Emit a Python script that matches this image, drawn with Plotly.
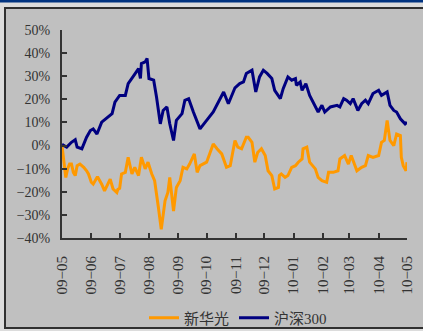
import plotly.graph_objects as go

# 沪深300 (blue)
hs_dates = ["2009-05-01","2009-05-06","2009-05-11","2009-05-15","2009-05-17","2009-05-22","2009-05-27","2009-05-31",
            "2009-06-03","2009-06-07","2009-06-12","2009-06-17","2009-06-23","2009-06-26","2009-07-01","2009-07-07",
            "2009-07-10","2009-07-15","2009-07-21","2009-07-23","2009-07-24","2009-07-28","2009-07-30","2009-08-01",
            "2009-08-06","2009-08-09","2009-08-13","2009-08-16","2009-08-20","2009-08-23","2009-08-27","2009-08-30",
            "2009-09-05","2009-09-08","2009-09-12","2009-09-17","2009-09-24","2009-10-01","2009-10-08","2009-10-19",
            "2009-10-24","2009-10-31","2009-11-05","2009-11-09","2009-11-12","2009-11-18","2009-11-22","2009-11-26",
            "2009-11-30","2009-12-04","2009-12-09","2009-12-12","2009-12-18","2009-12-21","2009-12-26","2009-12-30",
            "2010-01-03","2010-01-04","2010-01-08","2010-01-10","2010-01-14","2010-01-18","2010-01-24","2010-01-27",
            "2010-01-31","2010-02-03","2010-02-09","2010-02-16","2010-02-19","2010-02-23","2010-02-26","2010-03-02",
            "2010-03-05","2010-03-10","2010-03-14","2010-03-18","2010-03-21","2010-03-26","2010-04-01","2010-04-04",
            "2010-04-10","2010-04-13","2010-04-17","2010-04-20","2010-04-24","2010-04-29","2010-05-01"]
hs_vals = [0.5,-0.7,1.4,2.5,-0.7,-1.4,3.6,6.5,
           7.2,5.0,10.1,11.6,13.8,18.8,21.7,21.7,
           26.8,29.7,33.3,29.0,35.5,36.2,37.7,29.0,
           28.3,21.0,9.4,15.2,16.7,9.4,2.2,10.9,
           13.8,19.6,20.3,14.5,7.2,10.9,14.5,23.2,
           18.1,25.0,26.8,27.5,31.2,32.6,23.2,29.7,
           32.6,31.2,29.0,23.9,20.3,24.6,29.7,28.3,
           29.0,26.1,27.5,23.9,26.8,21.7,16.7,14.5,
           17.4,14.5,16.7,17.4,16.7,20.3,19.6,18.1,
           20.3,15.2,18.1,19.6,18.1,22.5,23.9,21.7,
           23.2,17.4,15.2,14.5,11.6,9.4,10.1]

# 新华光 (orange)
xhg_dates = ["2009-05-01","2009-05-03","2009-05-05","2009-05-07","2009-05-09","2009-05-11","2009-05-13","2009-05-15",
             "2009-05-17","2009-05-20","2009-05-24","2009-05-27","2009-05-29","2009-06-01","2009-06-03","2009-06-07",
             "2009-06-08","2009-06-12","2009-06-14","2009-06-15","2009-06-21","2009-06-24","2009-06-28","2009-06-29",
             "2009-07-01","2009-07-03","2009-07-07","2009-07-10","2009-07-14","2009-07-17","2009-07-21","2009-07-24",
             "2009-07-28","2009-07-31","2009-08-04","2009-08-07","2009-08-11","2009-08-14","2009-08-18","2009-08-21",
             "2009-08-23","2009-08-27","2009-08-30","2009-09-03","2009-09-06","2009-09-10","2009-09-13","2009-09-18",
             "2009-09-21","2009-09-24","2009-10-01","2009-10-08","2009-10-12","2009-10-17","2009-10-22","2009-10-26",
             "2009-10-28","2009-10-31","2009-11-03","2009-11-07","2009-11-12","2009-11-14","2009-11-18","2009-11-21",
             "2009-11-24","2009-11-28","2009-12-02","2009-12-05","2009-12-09","2009-12-12","2009-12-16","2009-12-17",
             "2009-12-19","2009-12-23","2009-12-26","2009-12-30","2010-01-03","2010-01-06","2010-01-10","2010-01-11",
             "2010-01-15","2010-01-18","2010-01-24","2010-01-27","2010-01-31","2010-02-05","2010-02-07","2010-02-12",
             "2010-02-17","2010-02-19","2010-02-24","2010-02-28","2010-03-03","2010-03-09","2010-03-14","2010-03-18",
             "2010-03-21","2010-03-26","2010-04-01","2010-04-04","2010-04-07","2010-04-10","2010-04-13","2010-04-17",
             "2010-04-20","2010-04-24","2010-04-25","2010-04-27","2010-04-30","2010-05-01"]
xhg_vals = [0.0,-6.0,-13.8,-10.0,-8.0,-8.0,-11.6,-13.0,
            -8.7,-8.0,-9.4,-10.9,-12.3,-15.9,-16.7,-13.8,
            -13.8,-16.7,-18.8,-19.6,-14.5,-18.8,-20.3,-19.0,
            -18.5,-12.3,-11.6,-5.1,-12.3,-9.4,-13.0,-5.1,
            -10.1,-7.2,-12.3,-15.2,-26.8,-36.2,-23.9,-20.3,
            -13.8,-28.3,-18.1,-15.2,-9.4,-10.1,-8.0,-3.6,
            -11.6,-8.7,-7.2,0.7,-1.4,-3.6,-9.4,-8.7,
            -4.3,2.2,-0.7,-1.4,3.6,3.6,1.4,-7.2,
            -3.0,-1.4,-4.3,-10.9,-13.0,-18.8,-18.1,-13.0,
            -12.3,-13.8,-13.0,-9.4,-8.7,-7.2,-5.8,-1.4,
            -0.7,-7.2,-10.1,-13.8,-15.2,-15.9,-11.6,-11.6,
            -10.9,-5.8,-4.3,-8.0,-4.3,-10.9,-9.4,-8.7,
            -4.3,-5.1,-4.3,1.4,2.2,10.9,2.2,0.0,
            5.0,4.3,-5.1,-8.7,-10.9,-7.2]

tick_vals = ["2009-05-01","2009-06-01","2009-07-01","2009-08-01","2009-09-01","2009-10-01","2009-11-01",
             "2009-12-01","2010-01-01","2010-02-01","2010-03-01","2010-04-01","2010-05-01"]
tick_text = ["09−05","09−06","09−07","09−08","09−09","09−10","09−11","09−12",
             "10−01","10−02","10−03","10−04","10−05"]

W, H = 423, 331
L, R, T, B = 62, 16, 30, 93
pw, ph = W - L - R, H - T - B

def px(x):
    return (x - L) / pw

def py(y):
    return (H - B - y) / ph

fig = go.Figure()
fig.add_trace(go.Scatter(x=xhg_dates, y=xhg_vals, mode="lines", name="新华光",
                         line=dict(color="#FF9900", width=3)))
fig.add_trace(go.Scatter(x=hs_dates, y=hs_vals, mode="lines", name="沪深300",
                         line=dict(color="#000080", width=3)))

shapes = [
    dict(type="rect", xref="paper", yref="paper", x0=px(-5), x1=px(430), y0=py(-5), y1=py(2.5),
         fillcolor="#003380", line=dict(width=0), layer="below"),
    dict(type="rect", xref="paper", yref="paper", x0=px(5), x1=px(430), y0=py(328), y1=py(8),
         fillcolor="#c0c0c0", line=dict(color="#303030", width=2), layer="below"),
]

fig.update_layout(
    width=W, height=H,
    margin=dict(l=L, r=R, t=T, b=B, autoexpand=False),
    paper_bgcolor="#dcdcdc",
    plot_bgcolor="rgba(0,0,0,0)",
    shapes=shapes,
    showlegend=True,
    legend=dict(orientation="h", x=px(144), y=py(318), xanchor="left", yanchor="middle",
                bgcolor="rgba(0,0,0,0)", font=dict(family="Liberation Serif, Noto Sans CJK SC", size=15, color="#333333"),
                itemwidth=30, tracegroupgap=0),
    font=dict(family="Liberation Serif, Noto Sans CJK SC", color="#333333"),
)
fig.update_xaxes(type="date", range=["2009-05-01", "2010-05-01"], tickvals=tick_vals, ticktext=tick_text,
                 tickangle=-90, tickfont=dict(size=15, color="#333333"), showgrid=False, zeroline=False,
                 showline=True, linecolor="#333333", linewidth=2, ticks="inside", ticklen=5,
                 tickcolor="#333333", tickwidth=2, automargin=False, ticklabelstandoff=10)
fig.update_yaxes(range=[-40, 50], dtick=10, ticksuffix="%", tickfont=dict(size=14, color="#333333"),
                 showgrid=False, zeroline=False, showline=True, linecolor="#333333", linewidth=2,
                 ticks="inside", ticklen=5, tickcolor="#333333", tickwidth=2, automargin=False,
                 ticklabelstandoff=7)

fig.write_html("out.html")
